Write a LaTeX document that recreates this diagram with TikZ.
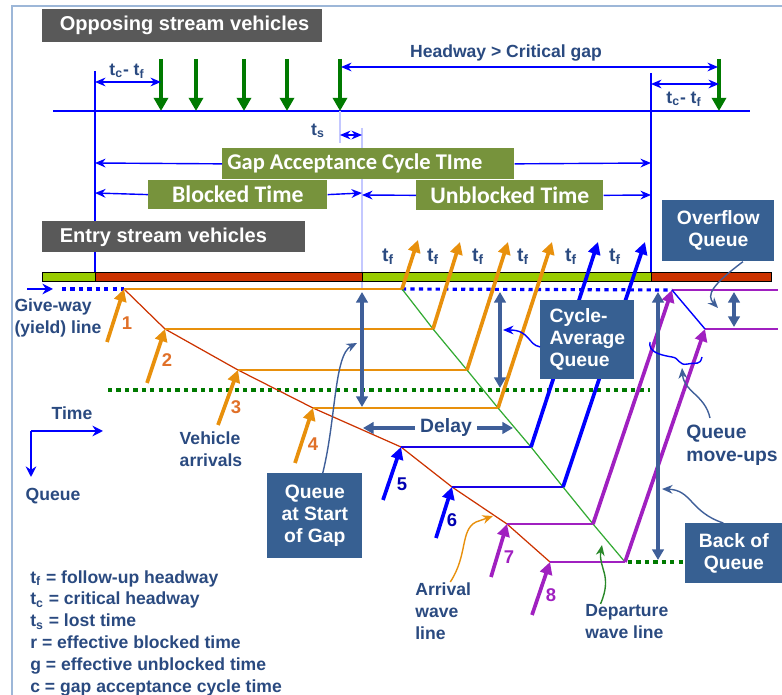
\documentclass[tikz,border=0pt]{standalone}
\usepackage{fontspec}
\setmainfont{Liberation Sans}
\newfontfamily\calfont{Carlito}
\usetikzlibrary{arrows.meta}

\definecolor{boxgrey}{HTML}{595959}
\definecolor{boxolive}{HTML}{77933C}
\definecolor{boxblue}{HTML}{376092}
\definecolor{txtblue}{HTML}{2A4A80}
\definecolor{dblblue}{HTML}{3F5F99}
\definecolor{vorange}{HTML}{E8900C}
\definecolor{norange}{HTML}{E07028}
\definecolor{vpurple}{HTML}{A020C0}
\definecolor{vgreen}{HTML}{007A00}
\definecolor{bargreen}{HTML}{99CC00}
\definecolor{barred}{HTML}{CC3300}
\definecolor{wavegreen}{HTML}{33AA33}
\definecolor{lightline}{HTML}{C4C8FF}
\definecolor{framecol}{HTML}{9DB7D8}

\tikzset{
  lbl/.style={text=txtblue, font=\bfseries\fontsize{10}{12.5}\selectfont, inner sep=0pt, align=left},
  biglbl/.style={lbl, font=\bfseries\fontsize{11}{13}\selectfont},
  num/.style={font=\bfseries\fontsize{10.5}{12}\selectfont, inner sep=0pt},
  greybox/.style={fill=boxgrey, text=white, font=\bfseries\fontsize{11.4}{13}\selectfont, anchor=north west, inner xsep=0.35cm},
  olivebox/.style={fill=boxolive, text=white, font=\calfont\bfseries\fontsize{13.5}{15}\selectfont, anchor=north west},
  bluebox/.style={fill=boxblue, text=white, font=\bfseries\fontsize{11}{12.5}\selectfont, anchor=north west, align=center},
  garrow/.style={vgreen, line width=2.8pt, -{Triangle[length=7.5pt,width=8pt]}},
  varrow/.style={line width=2.1pt, -{Triangle[length=7pt,width=7pt]}},
  track/.style={line width=1.7pt},
  thinarrow/.style={blue, line width=0.8pt, -{Stealth[length=6pt,width=5pt]}},
  dimarrow/.style={blue, line width=0.8pt, {Stealth[length=6pt,width=5pt]}-{Stealth[length=6pt,width=5pt]}},
  dblarrow/.style={dblblue, line width=2.3pt, {Triangle[length=6pt,width=6.5pt]}-{Triangle[length=6pt,width=6.5pt]}},
  callout/.style={line width=0.8pt, -{Stealth[length=6pt,width=5pt]}},
  dotline/.style={line width=1.8pt, dash pattern=on 2.4pt off 2.4pt}
}

\begin{document}
\begin{tikzpicture}[x=0.02cm, y=-0.02cm]

\useasboundingbox (0,0) rectangle (782,695);
\draw[framecol, line width=0.8pt] (12,695) -- (12,6) -- (782,6);

% opposing stream
\node[greybox, minimum height=0.66cm] (opp) at (42,9) {\makebox[4.9cm][l]{Opposing stream vehicles}};
\draw[blue, line width=1pt] (53,111) -- (750,111);
\foreach \x in {161,196,244,287,340,719}
  \draw[garrow] (\x,59) -- (\x,111);

\draw[blue, line width=1pt] (95,71) -- (95,281);
\draw[blue, line width=1pt] (651,73) -- (651,281);
\draw[lightline, line width=0.8pt] (340,111) -- (340,143);
\draw[lightline, line width=0.8pt] (362,128) -- (362,289);

\draw[dimarrow] (95,82) -- (161,82);
\node[lbl] (tcl) at (127,71) {t\textsubscript{c}- t\textsubscript{f}};
\draw[dimarrow] (651,84) -- (719,84);
\node[lbl] (tcr) at (684,99) {t\textsubscript{c}- t\textsubscript{f}};
\draw[dimarrow] (341,67) -- (718,67);
\node[lbl] (hdw) at (506,53) {Headway > Critical gap};
\draw[dimarrow] (340,135) -- (362,135);
\node[lbl] (ts) at (318,131) {t\textsubscript{s}};

% cycle boxes
\node[olivebox, font=\calfont\bfseries\fontsize{12.8}{15}\selectfont, minimum height=0.6cm, inner xsep=0.1cm] (gap) at (222,148) {\makebox[5.64cm][l]{Gap Acceptance Cycle TIme}};
\draw[thinarrow] (gap.west) -- (95,163);
\draw[thinarrow] (gap.east) -- (651,163);
\node[olivebox, minimum width=3.58cm, minimum height=0.54cm] (blk) at (148,180) {Blocked Time};
\draw[thinarrow] (blk.west) -- (95,193);
\draw[thinarrow] (blk.east) -- (362,193);
\node[olivebox, minimum width=3.74cm, minimum height=0.6cm] (ublk) at (416,180) {Unblocked Time};
\draw[thinarrow] (ublk.west) -- (362,195);
\draw[thinarrow] (ublk.east) -- (651,195);

% entry stream
\node[greybox, minimum height=0.62cm] (entry) at (42,221) {\makebox[4.56cm][l]{Entry stream vehicles}};
\draw[black, line width=0.5pt, fill=bargreen] (42,272) rectangle (95,281);
\draw[black, line width=0.5pt, fill=barred] (95,272) rectangle (362,281);
\draw[black, line width=0.5pt, fill=bargreen] (362,272) rectangle (651,281);
\draw[black, line width=0.5pt, fill=barred] (651,272) rectangle (771,281);

\foreach \x in {388,433,478,523,571,615}
  \node[lbl, font=\bfseries\fontsize{11}{13}\selectfont] at (\x,257) {t\textsubscript{f}};

% points of arrival, departure and exit
\coordinate (a1) at (124,289); \coordinate (d1) at (402,289); \coordinate (e1) at (418,240);
\coordinate (a2) at (165,329); \coordinate (d2) at (433,329); \coordinate (e2) at (460,242);
\coordinate (a3) at (238,370); \coordinate (d3) at (467,370); \coordinate (e3) at (508,242);
\coordinate (a4) at (313,408); \coordinate (d4) at (498,408); \coordinate (e4) at (552,242);
\coordinate (a5) at (401,447); \coordinate (d5) at (531,447); \coordinate (e5) at (598,242);
\coordinate (a6) at (452,487); \coordinate (d6) at (563,487); \coordinate (e6) at (645,242);
\coordinate (a7) at (507,524); \coordinate (d7) at (593,524); \coordinate (e7) at (672,290);
\coordinate (a8) at (550,562); \coordinate (d8) at (625,562); \coordinate (e8) at (705,329);
\coordinate (f7) at (778,290); \coordinate (f8) at (778,329);

% give-way line
\draw[blue, line width=1.2pt, -{Stealth[length=6pt,width=6pt]}] (27,289) -- (53,289);
\node[lbl] (gw) at (58,318) {Give-way\\(yield) line};
\draw[blue, dotline] (62,289) -- (a1);
\draw[blue, dotline] (d1) -- (e7);
\draw[vgreen, dotline] (108,390) -- (650,390);
\draw[vgreen, dotline] (628,562) -- (685,562);

% waves
\draw[barred, line width=0.7pt] (a1) -- (a2) -- (a3) -- (a4) -- (a5) -- (a6) -- (a7) -- (a8);
\draw[wavegreen, line width=0.7pt] (d1) -- (d2) -- (d3) -- (d4) -- (d5) -- (d6) -- (d7) -- (d8);

% vehicles
\foreach \i in {1,2,3,4} {
  \draw[vorange, track] (a\i) -- (d\i);
  \draw[vorange, varrow] (d\i) -- (e\i);
}
\foreach \i in {5,6} {
  \draw[blue!80!violet, track] (a\i) -- (d\i);
  \draw[blue, varrow] (d\i) -- (e\i);
}
\foreach \i in {7,8} {
  \draw[vpurple, track] (a\i) -- (d\i);
  \draw[vpurple, varrow] (d\i) -- (e\i);
  \draw[vpurple, track] (e\i) -- (f\i);
}
\draw[blue, line width=0.8pt] (e7) -- (e8);

% arrivals
\draw[vorange, varrow] (107,342) -- (a1);
\draw[vorange, varrow] (147,383) -- (a2);
\draw[vorange, varrow] (218,425) -- (a3);
\draw[vorange, varrow] (295,463) -- (a4);
\draw[blue, varrow] (383,500) -- (a5);
\draw[blue, varrow] (436,538) -- (a6);
\draw[vpurple, varrow] (491,577) -- (a7);
\draw[vpurple, varrow] (532,615) -- (a8);
\node[num, text=norange] (n1) at (127,323) {1};
\node[num, text=norange] (n2) at (167,360) {2};
\node[num, text=norange] (n3) at (236,407) {3};
\node[num, text=norange] (n4) at (313,444) {4};
\node[num, text=blue!70!black] (n5) at (402,484) {5};
\node[num, text=blue!70!black] (n6) at (452,520) {6};
\node[num, text=vpurple] (n7) at (509,557) {7};
\node[num, text=vpurple] (n8) at (551,595) {8};

% queue measures
\draw[dblarrow] (362,292) -- (362,407);
\draw[dblarrow] (500,292) -- (500,388);
\draw[dblarrow] (658,292) -- (658,560);
\draw[dblarrow] (734,292) -- (734,327);
\node[biglbl] (delay) at (446,428) {Delay};
\draw[dblblue, line width=2.3pt, -{Triangle[length=6pt,width=6.5pt]}] ([xshift=-3pt]delay.west) -- (363,428);
\draw[dblblue, line width=2.3pt, -{Triangle[length=6pt,width=6.5pt]}] ([xshift=3pt]delay.east) -- (513,428);

% boxes and callouts
\node[bluebox, minimum width=2.24cm, minimum height=1.22cm] (ofq) at (662,200) {Overflow\\Queue};
\draw[dblblue, callout] ([xshift=14pt]ofq.south) .. controls (712,285) and (706,295) .. (718,308);
\node[bluebox, minimum width=1.88cm, minimum height=1.58cm, align=left] (caq) at (540,300) {Cycle-\\Average\\Queue};
\draw[blue, callout] ([yshift=-4pt]caq.west) .. controls (528,345) and (530,330) .. (503,330);
\node[bluebox, minimum width=1.9cm, minimum height=1.7cm] (qsg) at (267,473) {Queue\\at Start\\of Gap};
\draw[dblblue, callout] ([xshift=4.5pt]qsg.north) .. controls (336,420) and (334,355) .. (357,343);
\node[bluebox, minimum width=1.94cm, minimum height=1.2cm] (boq) at (685,523) {Back of\\Queue};
\draw[dblblue, callout] ([xshift=-6pt]boq.north) .. controls (690,512) and (692,490) .. (662,489);

\node[biglbl, anchor=west] (qmu) at (686,445) {Queue\\move-ups};
\draw[dblblue, callout] (710,418) .. controls (705,395) and (684,392) .. (682,368);
\draw[blue, line width=0.8pt] (650,342) .. controls (648,352) and (660,355) .. (672,357)
  .. controls (680,358) and (678,366) .. (688,364) .. controls (696,362) and (700,366) .. (702,357);

\node[lbl] (varr) at (211,449) {Vehicle\\arrivals};
\node[lbl, anchor=north west] (awl) at (415,582) {Arrival\\wave\\line};
\draw[vorange, callout] ([xshift=-12pt]awl.north east) .. controls (468,555) and (460,530) .. (476,522) -- (493,516);
\node[lbl, anchor=north west] (dwl) at (585,604) {Departure\\wave line};
\draw[wavegreen!80!black, callout] ([xshift=-15pt]dwl.north) .. controls (613,575) and (598,568) .. (602,545);

% time / queue axes
\coordinate (axc) at (31,431);
\draw[blue, line width=1.2pt, -{Stealth[length=6pt,width=6pt]}] (axc) -- (103,431);
\draw[blue, line width=1.2pt, -{Stealth[length=6pt,width=6pt]}] (axc) -- (31,477);
\node[lbl] (tim) at (72,413) {Time};
\node[lbl] (que) at (53,496) {Queue};

% legend
\node[lbl, anchor=north west, font=\bfseries\fontsize{10}{12.4}\selectfont] (leg) at (30,570) {t\textsubscript{f} = follow-up headway\\t\textsubscript{c} = critical headway\\t\textsubscript{s} = lost time\\r = effective blocked time\\g = effective unblocked time\\c = gap acceptance cycle time};

\end{tikzpicture}
\end{document}
